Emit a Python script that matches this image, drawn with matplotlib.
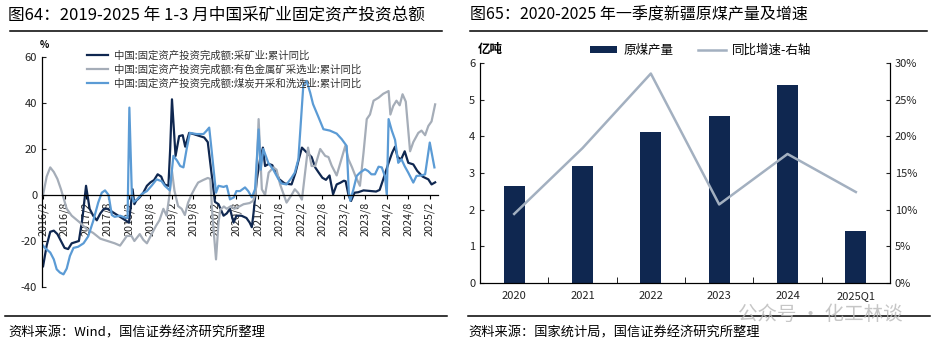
import matplotlib.pyplot as plt
from matplotlib.lines import Line2D

plt.rcParams['font.family'] = ['Noto Sans CJK SC', 'DejaVu Sans']
plt.rcParams['axes.unicode_minus'] = False

# ---- left panel: cumulative YoY, x = months since 2016/2 ----
mining_m = [0, 1, 2, 3, 4, 5, 6, 7, 8, 9, 10, 10.5, 11, 12, 13, 14, 15, 16, 17, 18, 19, 20, 21, 22, 23, 24,
            25, 25.5, 26, 27, 28, 29, 30, 31, 32, 33, 33.5, 34, 35, 35.5, 36, 37, 38, 39, 39.7, 40.8, 42, 44,
            45, 46, 48, 49, 50.4, 51.3, 52.2, 53.2, 54, 55.4, 56.8, 57.7, 58.3, 58.8, 59.7, 60.6, 61.4, 62, 63,
            64, 66, 67.5, 69.4, 70.5, 71.3, 72.3, 73.5, 75, 76, 77, 78, 79, 80, 81, 82, 83, 84, 84.5, 85.3,
            86, 87, 88, 89.5, 91, 93, 94, 95, 96.5, 97.5, 98.3, 99, 100, 101, 102, 103.4, 104.5, 106, 107.6,
            108.5, 109.5]
mining_v = [-31, -22, -16, -15.5, -17, -20, -23, -23.5, -21, -20.5, -20, -15, -10, 4, -6, -9, -11, -8, -6, -6,
            -7, -8, -9, -10, -11, -12, 2.5, -4, -2.5, -1, 1, 4, 5.5, 6.5, 9, 8, 6, 4.5, 4, 20, 41.6, 17, 25.6,
            26, 21, 27, 26.5, 25.5, 25, 23, -3, -4, -9, -8, -6, -12, -9, -9, -10, -12, -14, -7.6, 6.8, 15.5,
            20.6, 12.6, 13.5, 13, 6.8, 5, 4.6, 9.7, 14.8, 20.6, 18.7, 16.5, 12, 9.7, 7.5, 6.6, 8.5, 0.3, 4.6,
            5.3, 6.2, 6, 0, -2.6, 1, 1.2, 2, 1.8, 1.5, 2.2, 6.8, 14, 18.4, 21, 16.5, 15.5, 19, 14, 13.3, 10.5,
            8, 6.8, 4.6, 5.5]

metal_m = [0, 1, 2, 3, 4, 5, 6.6, 8, 10.3, 12.3, 14, 16, 18, 20, 21.5, 23.4, 24.7, 25.5, 27, 28, 29, 30,
           31.5, 32.5, 33.6, 34.5, 35.3, 36, 36.7, 37.7, 38.7, 39.6, 40.5, 41.5, 42.4, 43.3, 44.7, 46, 46.7,
           47.3, 48.3, 49, 49.5, 50.5, 51.3, 52.5, 53.4, 54.8, 56, 57.7, 58.7, 59.4, 60.2, 61.1, 62, 63, 64.3,
           65.2, 66.2, 68, 69.4, 70.3, 71.2, 72.3, 73.2, 74, 75, 76, 77.4, 78.8, 79.7, 80.6, 82, 83.4, 84.4,
           85.3, 86.3, 87.3, 88.5, 89.5, 90.4, 91.3, 92.3, 93.7, 95, 96.5, 97, 97.8, 98.7, 99.6, 100.4, 101.3,
           102.5, 103.4, 104.8, 105.7, 106.7, 107.6, 108.5, 109.5]
metal_v = [0, 8, 12, 10, 7, 2.5, -6, -9, -12, -15, -16.5, -19, -20, -21, -22, -17.8, -17.8, -20, -17, -19.5,
           -21, -18, -13.5, -11, -6, -9, 0, 10.4, 1.8, -4.8, -6, -8.7, -3.3, 0.3, 3, 5.4, 6.5, 7.4, 7, -9, -28,
           -12, -6.4, -5, -6, -4.8, -6, -5, -4, -3.5, -2.5, 1.2, 33, 2.5, 0, 9.7, 12, 11, 4.6, -3.3, 0, 2.5, 1,
           -2, 10, 20.6, 12.6, 12.6, 20, 17, 16.5, 12.8, 8.5, 16, 21.3, 15.5, 12, 8, 4, 18.4, 33, 35, 41, 42.3,
           44, 45.2, 35, 38.7, 41, 39, 43.8, 40.6, 19, 23, 27, 28, 26, 30, 32, 39.4]

coal_m = [0, 0.5, 2, 3, 3.8, 4.7, 5.7, 6.6, 7.5, 8.5, 9.8, 11.3, 12.6, 14, 15.4, 16.4, 17.3, 18.3, 19.2, 20,
          21.5, 22.9, 23.6, 24.1, 24.8, 25.3, 26.2, 27.6, 29, 30.4, 31.7, 33.1, 34, 35.4, 36.4, 37.4, 38.3,
          39.2, 40.1, 41, 42.9, 44.8, 45.7, 46.4, 46.9, 48.3, 49, 50.4, 51.3, 52.2, 53.3, 54, 55, 56.4, 57.3,
          58.3, 59.2, 60.2, 60.8, 61.5, 62.9, 64.3, 65.7, 66.6, 68, 69.4, 70.3, 71.3, 72.7, 73.6, 74.6, 75.4,
          76.8, 78.3, 80.1, 82, 83.4, 84.8, 85.4, 85.8, 86.7, 87.6, 88.5, 89.9, 90.8, 91.7, 92.7, 93.7, 94.6,
          95.5, 96, 96.5, 97.4, 98.3, 99.2, 100.1, 101, 102, 103.4, 104.3, 105.7, 106.7, 108, 109.3]
coal_v = [-22, -23, -25, -28, -32.3, -33.7, -34.5, -32, -26.5, -23, -22.5, -21, -18, -11.3, -3.3, 1, 2, 0,
          -8.7, -9.5, -9, -9.8, -10, 38, 0, -3, -2, 0.5, 1.7, 4.2, 6.8, 6, 4, 2, 17, 15, 12.6, 12, 20, 27, 26.5,
          26.5, 28, 29.3, 22, 1, 4, 3.5, 4, -1.9, -1, 1.7, 1.7, 3.3, 1.7, -1, 2.5, 28.5, 11, 20, 14, 11, 7, 5,
          4.6, 7.5, 9.7, 15.5, 48, 49.6, 44.5, 39.5, 34.3, 28.6, 28, 26.7, 24.3, 21.3, 1, -2.5, 2.6, 8.3, 9.7,
          11.2, 10.4, 9, 9, 12.3, 12, 8, 0, 33, 28, 24, 14, 15.5, 12.5, 9.7, 5.4, 8.3, 8.5, 9, 22.8, 12]

tick_months = list(range(0, 109, 6))
tick_labels = ['%d/%d' % (2016 + (m + 1) // 12, 2 + (m % 12)) for m in tick_months]

# ---- right panel ----
years = ['2020', '2021', '2022', '2023', '2024', '2025Q1']
output = [2.65, 3.19, 4.11, 4.55, 5.40, 1.41]
yoy = [9.4, 18.4, 28.6, 10.7, 17.6, 12.4]

navy = '#0f2750'
grey = '#a5adb8'
blue = '#5b9bd5'
txt = '#222222'

fig = plt.figure(figsize=(9.39, 3.5), dpi=100)

# left chart
ax = fig.add_axes([42 / 939, 1 - 287 / 350, 396 / 939, 230 / 350])
ax.plot(mining_m, mining_v, color=navy, lw=1.6, label='中国:固定资产投资完成额:采矿业:累计同比')
ax.plot(metal_m, metal_v, color=grey, lw=1.6, label='中国:固定资产投资完成额:有色金属矿采选业:累计同比')
ax.plot(coal_m, coal_v, color=blue, lw=1.6, label='中国:固定资产投资完成额:煤炭开采和洗选业:累计同比')
ax.set_xlim(-0.3, 110.3)
ax.set_ylim(-40, 60)
ax.set_yticks([-40, -20, 0, 20, 40, 60])
ax.set_yticklabels(['-40', '-20', '0', '20', '40', '60'])
ax.spines['top'].set_visible(False)
ax.spines['right'].set_visible(False)
ax.spines['bottom'].set_position(('data', 0))
ax.spines['bottom'].set_linewidth(0.9)
ax.spines['left'].set_linewidth(0.9)
ax.set_xticks(tick_months)
ax.set_xticklabels(tick_labels, rotation=90, fontsize=7.8, color=txt)
ax.tick_params(axis='x', direction='out', length=3, pad=2)
ax.tick_params(axis='y', direction='in', length=3, labelsize=8, colors=txt)
ax.text(0.5, 63, '%', fontsize=7, fontweight='bold', ha='center', va='bottom')
ax.legend(loc='upper left', bbox_to_anchor=(0.09, 1.07), frameon=False, fontsize=7.5,
          handlelength=2.0, handletextpad=0.6, labelspacing=0.35, labelcolor='#333333')

# right chart
ax2 = fig.add_axes([480 / 939, 1 - 282.7 / 350, 410 / 939, 219.4 / 350])
xs = range(len(years))
ax2.bar(xs, output, width=0.31, color=navy, label='原煤产量', zorder=2)
ax2.set_ylim(0, 6)
ax2.set_xlim(-0.5, len(years) - 0.5)
ax2.set_xticks(list(xs))
ax2.set_xticklabels(years, fontsize=8, color=txt)
ax2.set_xticks([i + 0.5 for i in range(len(years) - 1)], minor=True)
ax2.tick_params(axis='x', which='major', length=0, pad=6)
ax2.tick_params(axis='x', which='minor', direction='in', length=4)
ax2.tick_params(axis='y', direction='in', length=3, labelsize=8, colors=txt)
ax2.spines['top'].set_visible(False)
ax3 = ax2.twinx()
ax3.plot(list(xs), yoy, color='#a3b0c0', lw=1.8, label='同比增速-右轴')
ax3.set_ylim(0, 30)
ax3.set_yticks(range(0, 31, 5))
ax3.set_yticklabels(['%d%%' % v for v in range(0, 31, 5)])
ax3.tick_params(axis='y', direction='in', length=3, labelsize=8, colors=txt)
ax3.spines['top'].set_visible(False)
h1, l1 = ax2.get_legend_handles_labels()
h2, l2 = ax3.get_legend_handles_labels()
ax3.legend(h1 + h2, l1 + l2, loc='upper left', bbox_to_anchor=(0.24, 1.14), ncol=2, frameon=False,
           fontsize=9, handlelength=2.2, handleheight=0.5, columnspacing=2.0, handletextpad=0.5)
fig.text(478 / 939, 1 - 50 / 350, '亿吨', fontsize=9, fontweight='bold', va='center')

# titles, rules and sources
fig.text(8 / 939, 1 - 15 / 350, '图64：2019-2025 年 1-3 月中国采矿业固定资产投资总额', fontsize=12, va='center')
fig.text(470 / 939, 1 - 15 / 350, '图65：2020-2025 年一季度新疆原煤产量及增速', fontsize=11.5, va='center')
for x0, x1, y in [(10, 442, 31), (470, 927, 31), (5, 447, 316), (468, 930, 316)]:
    fig.add_artist(Line2D([x0 / 939, x1 / 939], [1 - y / 350, 1 - y / 350], color='black', lw=1.1))
fig.text(8 / 939, 1 - 333 / 350, '资料来源：Wind，国信证券经济研究所整理', fontsize=9.5, va='center')
fig.text(468 / 939, 1 - 333 / 350, '资料来源：国家统计局，国信证券经济研究所整理', fontsize=9.5, va='center')
fig.text(738 / 939, 1 - 314 / 350, '公众号 · 化工林谈', fontsize=14, color='#b8b8b8', alpha=0.8, va='center')

fig.savefig('out.png', dpi=100)
